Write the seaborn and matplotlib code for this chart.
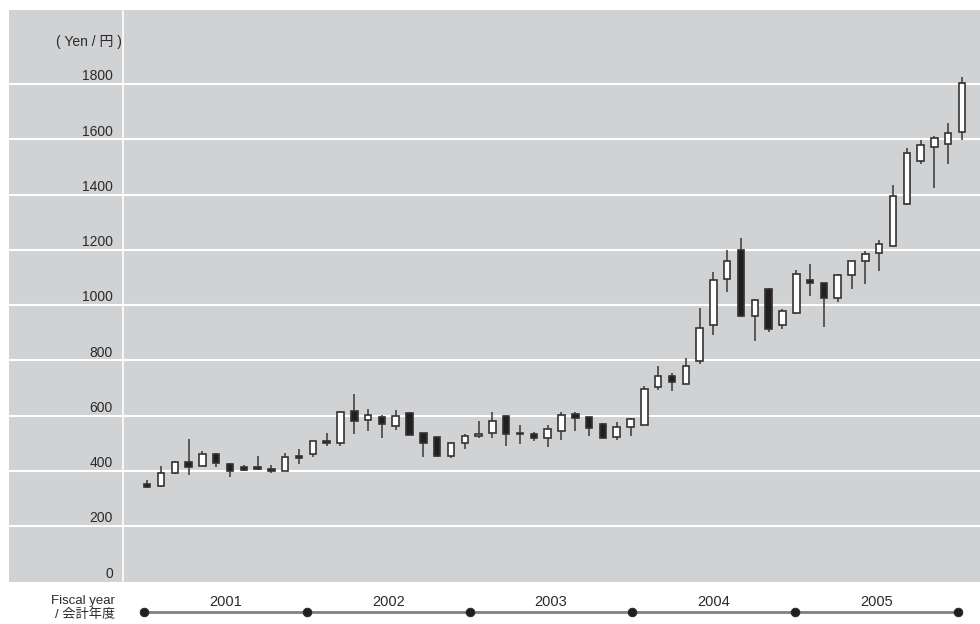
import matplotlib
matplotlib.use('Agg')
import matplotlib.pyplot as plt
import seaborn as sns
import numpy as np
import pandas as pd

# monthly candles, fiscal 2001-2005 (yen)
opens = [352, 344, 391, 433, 418, 461, 425, 412, 412, 405, 399, 451,
         461, 509, 499, 618, 583, 594, 561, 611, 536, 521, 454, 499,
         526, 537, 599, 538, 534, 520, 545, 606, 594, 568, 521, 557,
         566, 704, 742, 715, 798, 926, 1093, 1201, 960, 1059, 929, 970,
         1089, 1079, 1025, 1110, 1159, 1190, 1215, 1365, 1520, 1572, 1582, 1625]
highs = [367, 416, 437, 516, 470, 463, 428, 421, 454, 421, 463, 478,
         508, 536, 616, 679, 622, 602, 620, 612, 537, 522, 503, 534,
         579, 614, 602, 567, 542, 564, 614, 612, 596, 574, 578, 592,
         707, 781, 753, 809, 988, 1118, 1200, 1241, 1022, 1060, 984, 1128,
         1150, 1080, 1112, 1160, 1195, 1234, 1436, 1568, 1597, 1611, 1659, 1824]
lows = [338, 342, 390, 386, 416, 412, 376, 400, 403, 391, 398, 425,
        449, 491, 491, 534, 545, 519, 548, 529, 449, 451, 445, 479,
        518, 518, 490, 497, 509, 485, 512, 545, 526, 518, 513, 527,
        565, 693, 690, 714, 787, 893, 1049, 958, 869, 902, 914, 968,
        1031, 922, 1012, 1059, 1077, 1122, 1212, 1363, 1510, 1422, 1512, 1599]
closes = [340, 391, 432, 412, 460, 427, 398, 404, 405, 399, 449, 448,
          507, 499, 614, 582, 603, 568, 599, 530, 499, 452, 501, 526,
          534, 579, 532, 534, 518, 550, 602, 590, 555, 519, 560, 588,
          697, 744, 723, 780, 918, 1092, 1161, 961, 1020, 915, 978, 1112,
          1079, 1024, 1110, 1158, 1183, 1222, 1395, 1549, 1578, 1603, 1622, 1803]

years = ['2001', '2002', '2003', '2004', '2005']
yticks = [0, 200, 400, 600, 800, 1000, 1200, 1400, 1600, 1800]

df = pd.DataFrame({'open': opens, 'high': highs, 'low': lows, 'close': closes})
df['x'] = np.arange(len(df))
df['bottom'] = df[['open', 'close']].min(axis=1)
df['height'] = (df['open'] - df['close']).abs().clip(lower=4)
df['down'] = df['close'] < df['open']

sns.set_style('white')
plt.rcParams['font.family'] = ['Liberation Sans', 'Noto Sans CJK JP']

panel = '#d1d2d4'
ink = '#231f20'
txt = '#2a2a2a'

fig = plt.figure(figsize=(9.8, 6.24), dpi=100)
ax = fig.add_axes([9 / 980, 42 / 624, 971 / 980, 572 / 624])
ax.set_facecolor(panel)
for s in ax.spines.values():
    s.set_visible(False)

ax.set_xlim(-10.0, 60.3)
ax.set_ylim(-2.5, 2068)
# the zero line sits on the panel edge, so only draw grid from 200 up
ax.set_yticks(yticks[1:])
ax.set_yticklabels([])
ax.set_xticks([])
ax.tick_params(length=0)
ax.grid(axis='y', color='white', lw=1.5)
ax.set_axisbelow(True)
ax.axvline(-1.74, color='white', lw=1.2)

# y labels inside the panel, sitting just above their grid lines
for v in yticks:
    ax.annotate(str(v), xy=(0.107, v), xycoords=ax.get_yaxis_transform(),
                xytext=(0, 5.5), textcoords='offset points',
                ha='right', va='center', fontsize=10, color=txt)
ax.annotate('( Yen / 円 )', xy=(0.1159, 1800), xycoords=ax.get_yaxis_transform(),
            xytext=(0, 30), textcoords='offset points',
            ha='right', va='center', fontsize=10, color=txt)

# wicks
ax.vlines(df['x'], df['low'], df['high'], color='#444444', lw=1.2, zorder=2)
# bodies
colors = np.where(df['down'], ink, 'white')
ax.bar(df['x'], df['height'], bottom=df['bottom'], width=0.47,
       color=colors, edgecolor='#333333', linewidth=1.2, zorder=3)

# fiscal year timeline
ax2 = fig.add_axes([144 / 980, 0, 814 / 980, 34 / 624])
ax2.set_xlim(0, len(years))
ax2.set_ylim(0, 1)
ax2.axis('off')
edges = np.arange(len(years) + 1)
ax2.plot(edges, [0.353] * len(edges), color='#808080', lw=2, clip_on=False, zorder=1)
sns.scatterplot(x=edges, y=[0.353] * len(edges), ax=ax2, color=ink, s=40,
                edgecolor=ink, clip_on=False, zorder=2, legend=False)
for i, yr in enumerate(years):
    ax2.text(i + 0.5, 0.66, yr, ha='center', va='center', fontsize=10.5, color=txt)

fig.text(115 / 980, 1 - 608 / 624, 'Fiscal year\n/ 会計年度', ha='right', va='center',
         multialignment='right', fontsize=9.5, linespacing=1.05, color=txt)

fig.savefig('out.png', dpi=100, facecolor='white')
